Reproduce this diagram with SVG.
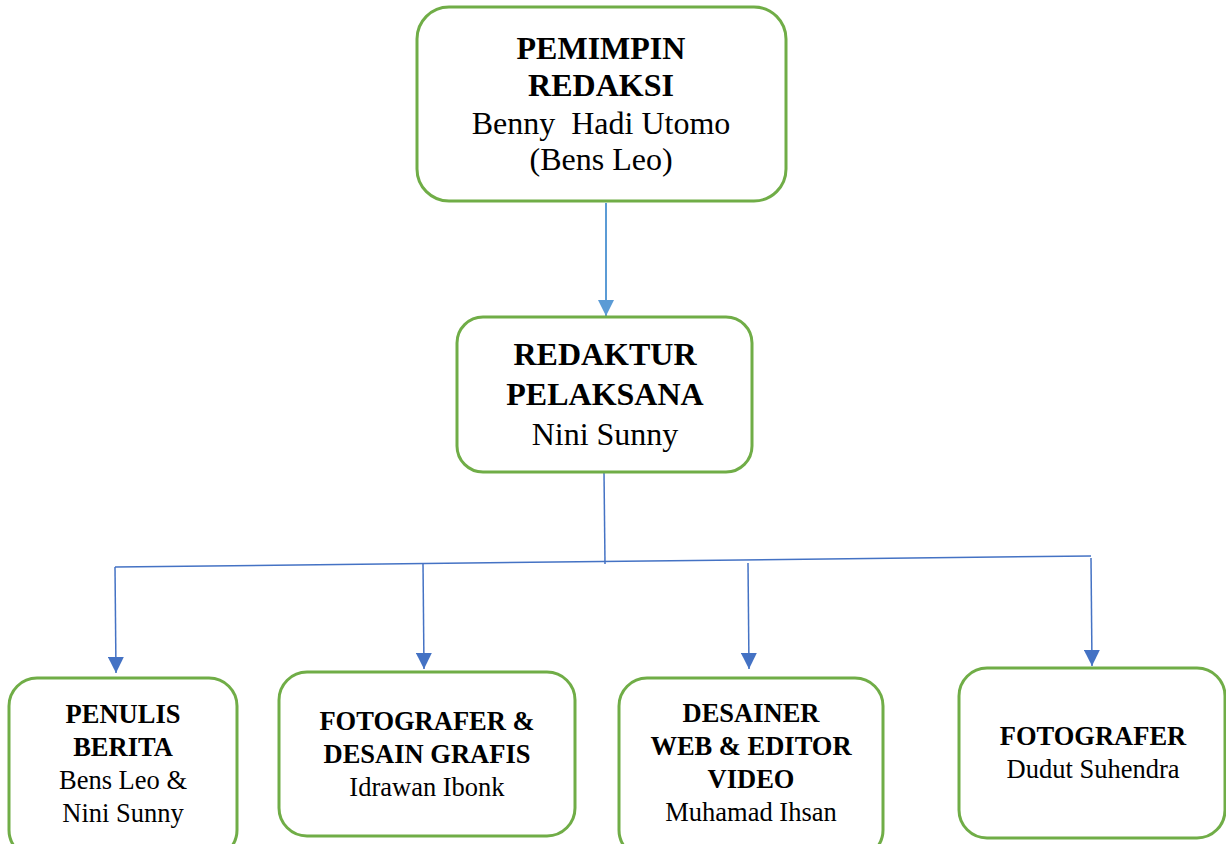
<svg xmlns="http://www.w3.org/2000/svg" width="1226" height="844" viewBox="0 0 1226 844">
<defs>
<style>
.box{fill:#fff;stroke:#70AD47;stroke-width:3}
.t{font-family:"Liberation Serif","Times New Roman",serif;text-anchor:middle;fill:#000}
.b{font-weight:bold}
.l{font-size:32px}
.s{font-size:26.5px}
.c1{stroke:#5B9BD5;stroke-width:2;fill:none}
.c2{stroke:#4472C4;stroke-width:1.5;fill:none}
</style>
<marker id="a1" viewBox="0 0 10 10" refX="10" refY="5" markerWidth="16" markerHeight="16" markerUnits="userSpaceOnUse" orient="auto"><path d="M0,0 L10,5 L0,10 z" fill="#5B9BD5"/></marker>
<marker id="a2" viewBox="0 0 10 10" refX="10" refY="5" markerWidth="16" markerHeight="16" markerUnits="userSpaceOnUse" orient="auto"><path d="M0,0 L10,5 L0,10 z" fill="#4472C4"/></marker>
</defs>
<g id="connectors">
<line class="c1" x1="606" y1="203" x2="606" y2="316" marker-end="url(#a1)"/>
<line class="c2" x1="604" y1="472" x2="605" y2="564"/>
<line class="c2" x1="115" y1="567" x2="1091" y2="556"/>
<line class="c2" x1="115" y1="567" x2="116" y2="673" marker-end="url(#a2)"/>
<line class="c2" x1="423" y1="563" x2="424" y2="669" marker-end="url(#a2)"/>
<line class="c2" x1="748" y1="563" x2="749" y2="669" marker-end="url(#a2)"/>
<line class="c2" x1="1091" y1="558" x2="1092" y2="666" marker-end="url(#a2)"/>
</g>
<g id="pemimpin">
<rect class="box" x="417" y="7" width="369" height="194" rx="32"/>
<text class="t b l" x="601" y="59">PEMIMPIN</text>
<text class="t b l" x="601" y="96">REDAKSI</text>
<text class="t l" x="601" y="134" xml:space="preserve">Benny  Hadi Utomo</text>
<text class="t l" x="601" y="170">(Bens Leo)</text>
</g>
<g id="redaktur">
<rect class="box" x="457" y="317" width="295" height="155" rx="26"/>
<text class="t b l" x="605" y="365">REDAKTUR</text>
<text class="t b l" x="605" y="405">PELAKSANA</text>
<text class="t l" x="605" y="445">Nini Sunny</text>
</g>
<g id="penulis">
<rect class="box" x="9" y="678" width="228" height="180" rx="28"/>
<text class="t b s" x="123" y="723">PENULIS</text>
<text class="t b s" x="123" y="756">BERITA</text>
<text class="t s" x="123" y="789">Bens Leo &amp;</text>
<text class="t s" x="123" y="822">Nini Sunny</text>
</g>
<g id="fotografer-desain">
<rect class="box" x="279" y="672" width="296" height="164" rx="28"/>
<text class="t b s" x="427" y="730">FOTOGRAFER &amp;</text>
<text class="t b s" x="427" y="763">DESAIN GRAFIS</text>
<text class="t s" x="427" y="796">Idrawan Ibonk</text>
</g>
<g id="desainer">
<rect class="box" x="619" y="678" width="264" height="180" rx="28"/>
<text class="t b s" x="751" y="722">DESAINER</text>
<text class="t b s" x="751" y="755">WEB &amp; EDITOR</text>
<text class="t b s" x="751" y="788">VIDEO</text>
<text class="t s" x="751" y="821">Muhamad Ihsan</text>
</g>
<g id="fotografer">
<rect class="box" x="959" y="668" width="266" height="170" rx="28"/>
<text class="t b s" x="1093" y="745">FOTOGRAFER</text>
<text class="t s" x="1093" y="778">Dudut Suhendra</text>
</g>
</svg>
